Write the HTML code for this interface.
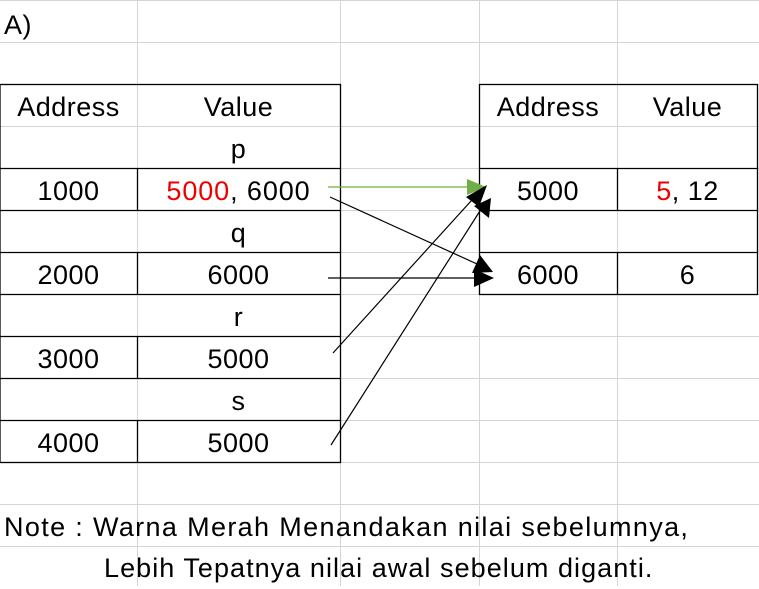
<!DOCTYPE html>
<html><head><style>
body{margin:0;width:759px;height:586px;background:#fff;position:relative;overflow:hidden;font-family:"Liberation Sans",sans-serif;}
.t{position:absolute;font-size:27px;color:#000;white-space:nowrap;line-height:42px;letter-spacing:0.5px;}
.c{text-align:center;}
.r{color:#e00;}
</style></head><body>
<svg width="759" height="586" style="position:absolute;left:0;top:0">
<g stroke="#d4d4d4" stroke-width="1">
<line x1="0" y1="0.5" x2="759" y2="0.5"/>
<line x1="0" y1="42.5" x2="759" y2="42.5"/>
<line x1="0" y1="126.5" x2="759" y2="126.5"/>
<line x1="340" y1="168.5" x2="759" y2="168.5"/>
<line x1="340" y1="210.5" x2="759" y2="210.5"/>
<line x1="340" y1="252.5" x2="759" y2="252.5"/>
<line x1="340" y1="294.5" x2="759" y2="294.5"/>
<line x1="340" y1="336.5" x2="759" y2="336.5"/>
<line x1="340" y1="378.5" x2="759" y2="378.5"/>
<line x1="340" y1="420.5" x2="759" y2="420.5"/>
<line x1="0" y1="462.5" x2="759" y2="462.5"/>
<line x1="0" y1="504.5" x2="759" y2="504.5"/>
<line x1="0" y1="546.5" x2="759" y2="546.5"/>
<line x1="137.5" y1="0" x2="137.5" y2="586"/>
<line x1="340.5" y1="0" x2="340.5" y2="586"/>
<line x1="479.5" y1="0" x2="479.5" y2="586"/>
<line x1="617.5" y1="0" x2="617.5" y2="586"/>
</g>
<g stroke="#000" stroke-width="1.3" fill="none">
<rect x="0" y="84.5" width="340.5" height="378"/>
<line x1="0" y1="168.5" x2="340" y2="168.5"/>
<line x1="0" y1="210.5" x2="340" y2="210.5"/>
<line x1="0" y1="252.5" x2="340" y2="252.5"/>
<line x1="0" y1="294.5" x2="340" y2="294.5"/>
<line x1="0" y1="336.5" x2="340" y2="336.5"/>
<line x1="0" y1="378.5" x2="340" y2="378.5"/>
<line x1="0" y1="420.5" x2="340" y2="420.5"/>
<line x1="137.5" y1="168" x2="137.5" y2="210"/>
<line x1="137.5" y1="252" x2="137.5" y2="294"/>
<line x1="137.5" y1="336" x2="137.5" y2="378"/>
<line x1="137.5" y1="420" x2="137.5" y2="462"/>
<rect x="479.5" y="84.5" width="278" height="210"/>
<line x1="479" y1="168.5" x2="758" y2="168.5"/>
<line x1="479" y1="210.5" x2="758" y2="210.5"/>
<line x1="479" y1="252.5" x2="758" y2="252.5"/>
<line x1="617.5" y1="168" x2="617.5" y2="210"/>
<line x1="617.5" y1="252" x2="617.5" y2="294"/>
</g>
<g stroke="#000" stroke-width="1.2">
<line x1="328" y1="187" x2="484" y2="187" stroke="#70ad47"/>
<path d="M467,179 L486,187 L467,195z" fill="#70ad47" stroke="none"/>
<line x1="330" y1="197" x2="488" y2="269"/>
<path d="M480,255 L493,272 L472,273z" fill="#000" stroke="none"/>
<line x1="328" y1="278" x2="490" y2="278"/>
<path d="M474,269 L494,278 L474,287z" fill="#000" stroke="none"/>
<line x1="333" y1="353" x2="481" y2="190"/>
<path d="M466,197 L487,185 L479,207z" fill="#000" stroke="none"/>
<line x1="331" y1="445" x2="485" y2="203"/>
<path d="M474,206 L491,198 L489,218z" fill="#000" stroke="none"/>
</g>
</svg>
<div class="t" style="left:4px;top:4px">A)</div>
<div class="t c" style="left:0;width:137px;top:86px">Address</div>
<div class="t c" style="left:137px;width:203px;top:86px">Value</div>
<div class="t c" style="left:137px;width:203px;top:128px">p</div>
<div class="t c" style="left:0;width:137px;top:170px">1000</div>
<div class="t c" style="left:137px;width:203px;top:170px;letter-spacing:0.9px"><span class="r">5000</span>, 6000</div>
<div class="t c" style="left:137px;width:203px;top:212px">q</div>
<div class="t c" style="left:0;width:137px;top:254px">2000</div>
<div class="t c" style="left:137px;width:203px;top:254px">6000</div>
<div class="t c" style="left:137px;width:203px;top:296px">r</div>
<div class="t c" style="left:0;width:137px;top:338px">3000</div>
<div class="t c" style="left:137px;width:203px;top:338px">5000</div>
<div class="t c" style="left:137px;width:203px;top:380px">s</div>
<div class="t c" style="left:0;width:137px;top:422px">4000</div>
<div class="t c" style="left:137px;width:203px;top:422px">5000</div>
<div class="t c" style="left:479px;width:138px;top:86px">Address</div>
<div class="t c" style="left:617px;width:141px;top:86px">Value</div>
<div class="t c" style="left:479px;width:138px;top:170px">5000</div>
<div class="t c" style="left:617px;width:141px;top:170px"><span class="r">5</span>, 12</div>
<div class="t c" style="left:479px;width:138px;top:254px">6000</div>
<div class="t c" style="left:617px;width:141px;top:254px">6</div>
<div class="t" style="left:4px;top:506px;letter-spacing:1.35px">Note : Warna Merah Menandakan nilai sebelumnya,</div>
<div class="t" style="left:104px;top:547px;letter-spacing:1.05px">Lebih Tepatnya nilai awal sebelum diganti.</div>
</body></html>
